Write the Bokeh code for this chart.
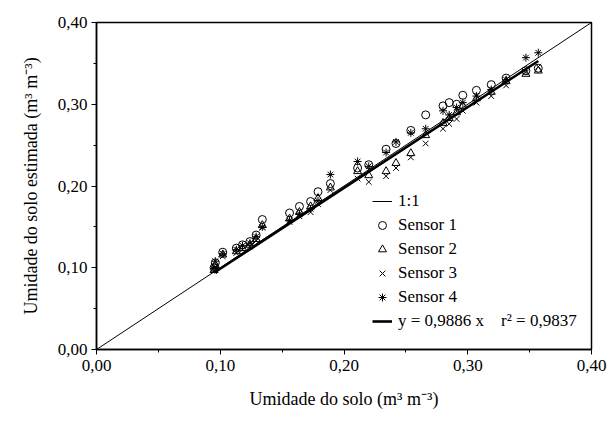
from bokeh.plotting import figure
from bokeh.models import Legend, LegendItem, SingleIntervalTicker, Range1d, CustomJSTickFormatter
from bokeh.embed import file_html
from bokeh.resources import INLINE

# measured soil moisture (x) and estimated values per sensor
x_obs = [0.095, 0.096, 0.102, 0.113, 0.118, 0.124, 0.129, 0.134, 0.156, 0.164,
         0.173, 0.179, 0.189, 0.211, 0.220, 0.234, 0.242, 0.254, 0.266, 0.280,
         0.285, 0.291, 0.296, 0.307, 0.319, 0.331, 0.347, 0.357]
sensor1 = [0.100, 0.106, 0.119, 0.124, 0.128, 0.132, 0.140, 0.159, 0.167, 0.175,
           0.181, 0.193, 0.203, 0.222, 0.226, 0.245, 0.252, 0.268, 0.287, 0.298,
           0.302, 0.300, 0.311, 0.317, 0.324, 0.332, 0.341, 0.344]
sensor2 = [0.097, 0.103, 0.116, 0.120, 0.124, 0.128, 0.135, 0.152, 0.160, 0.168,
           0.175, 0.185, 0.198, 0.218, 0.213, 0.218, 0.228, 0.240, 0.262, 0.277,
           0.283, 0.290, 0.298, 0.307, 0.315, 0.328, 0.337, 0.341]
sensor3 = [0.096, 0.101, 0.114, 0.118, 0.122, 0.126, 0.133, 0.149, 0.156, 0.163,
           0.168, 0.178, 0.195, 0.209, 0.205, 0.212, 0.222, 0.235, 0.252, 0.270,
           0.276, 0.282, 0.292, 0.302, 0.310, 0.323, 0.339, 0.346]
sensor4 = [0.099, 0.108, 0.117, 0.122, 0.127, 0.130, 0.138, 0.150, 0.158, 0.166,
           0.172, 0.182, 0.214, 0.230, 0.224, 0.241, 0.254, 0.265, 0.270, 0.292,
           0.287, 0.296, 0.302, 0.310, 0.318, 0.330, 0.357, 0.363]

slope = 0.9886
fit_x = [0.095, 0.357]
fit_y = [slope * v for v in fit_x]
one_x = [0.0, 0.40]
one_y = [0.0, 0.40]

FONT = "serif"

p = figure(width=613, height=430, output_backend="svg", toolbar_location=None,
           x_range=Range1d(0, 0.40), y_range=Range1d(0, 0.40),
           min_border_left=96, min_border_right=22, min_border_top=22, min_border_bottom=81)
p.grid.visible = False
p.outline_line_color = "black"
p.outline_line_width = 1.5
p.background_fill_color = "white"
p.border_fill_color = "white"

fmt = CustomJSTickFormatter(code="return tick.toFixed(2).replace('.', ',');")

for ax in (p.xaxis[0], p.yaxis[0]):
    ax.ticker = SingleIntervalTicker(interval=0.1, num_minor_ticks=2)
    ax.formatter = fmt
    ax.major_label_text_font = FONT
    ax.major_label_text_font_size = "17px"
    ax.major_label_text_color = "black"
    ax.axis_label_text_font = FONT
    ax.axis_label_text_font_size = "18px"
    ax.axis_label_text_font_style = "normal"
    ax.axis_label_text_color = "black"
    ax.axis_line_color = "black"
    ax.axis_line_width = 1.5
    ax.major_tick_line_color = "black"
    ax.minor_tick_line_color = "black"
    ax.major_tick_out = 5
    ax.major_tick_in = 0
    ax.minor_tick_out = 3
    ax.minor_tick_in = 0

p.xaxis.axis_label = "Umidade do solo (m³ m⁻³)"
p.yaxis.axis_label = "Umidade do solo estimada (m³ m⁻³)"
p.xaxis.axis_label_standoff = 15
p.yaxis.axis_label_standoff = 14
p.xaxis.major_label_standoff = 5
p.yaxis.major_label_standoff = 4

r_one = p.line(one_x, one_y, line_color="black", line_width=1)
r_fit = p.line(fit_x, fit_y, line_color="black", line_width=2.6)

MS = 8
r1 = p.scatter(x_obs, sensor1, marker="circle", size=MS, fill_color=None, line_color="black", line_width=1)
r2 = p.scatter(x_obs, sensor2, marker="triangle", size=MS, fill_color=None, line_color="black", line_width=1)
r3 = p.scatter(x_obs, sensor3, marker="x", size=MS, line_color="black", line_width=1)
r4 = p.scatter(x_obs, sensor4, marker="asterisk", size=MS, line_color="black", line_width=1)

legend = Legend(items=[
    LegendItem(label="1:1", renderers=[r_one]),
    LegendItem(label="Sensor 1", renderers=[r1]),
    LegendItem(label="Sensor 2", renderers=[r2]),
    LegendItem(label="Sensor 3", renderers=[r3]),
    LegendItem(label="Sensor 4", renderers=[r4]),
    LegendItem(label="y = 0,9886 x    r² = 0,9837", renderers=[r_fit]),
], location=(276, 18))
legend.background_fill_alpha = 0
legend.border_line_alpha = 0
legend.padding = 0
legend.margin = 0
legend.spacing = 4
legend.label_height = 20
legend.glyph_height = 20
legend.glyph_width = 20
legend.label_standoff = 6
legend.label_text_font = FONT
legend.label_text_font_size = "17px"
legend.label_text_color = "black"
p.add_layout(legend)

open("out.html", "w").write(file_html(p, INLINE))
